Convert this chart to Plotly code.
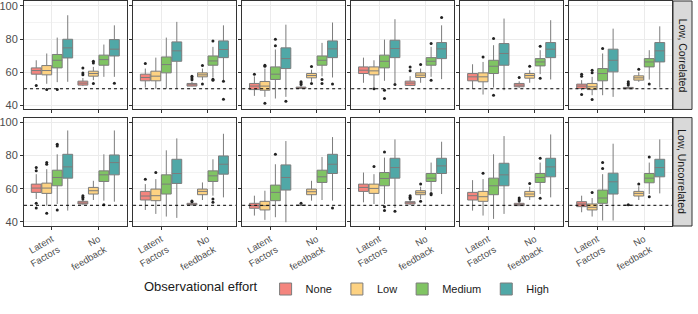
import plotly.graph_objects as go
from plotly.subplots import make_subplots

EFFORT = ["None", "Low", "Medium", "High"]
COLORS = ["#F4857E", "#FDD282", "#80C463", "#50A8A7"]
FEEDBACK = ["Latent<br>Factors", "No<br>feedback"]
ROW_LABELS = ["Low, Correlated", "Low, Uncorrelated"]
Y_TICKS = [40, 60, 80, 100]

# One row per panel (6 panels of the top row, then 6 of the bottom row).
# Columns: LF-None, LF-Low, LF-Medium, LF-High, NF-None, NF-Low, NF-Medium, NF-High
LOWER = [
    [55.2, 53.0, 54.0, 54.2, 51.6, 55.2, 57.2, 57.2],
    [50.7, 50.0, 50.0, 50.0, 51.4, 55.2, 56.8, 55.2],
    [45.7, 45.1, 44.1, 45.1, 50.0, 54.2, 57.5, 56.8],
    [53.6, 51.0, 54.8, 53.2, 51.6, 53.6, 57.2, 55.8],
    [50.0, 46.5, 50.7, 49.1, 50.6, 53.6, 58.8, 55.6],
    [49.1, 46.1, 46.1, 45.1, 50.0, 54.2, 55.5, 50.7],
    [53.8, 49.8, 50.8, 46.8, 50.4, 53.2, 52.8, 52.2],
    [47.2, 44.8, 43.2, 42.4, 50.0, 53.2, 55.8, 54.8],
    [43.8, 41.2, 42.8, 39.8, 50.0, 52.8, 53.2, 52.8],
    [51.8, 50.8, 50.8, 48.4, 50.2, 53.8, 58.2, 56.8],
    [46.8, 43.8, 41.8, 44.8, 49.6, 53.2, 56.8, 54.8],
    [45.8, 43.2, 40.8, 40.8, 50.0, 53.2, 56.8, 57.2],
]
Q1 = [
    [58.8, 58.4, 62.6, 68.6, 52.2, 57.6, 64.2, 69.8],
    [54.8, 54.8, 59.6, 66.6, 51.6, 57.2, 64.2, 68.8],
    [49.5, 49.1, 55.6, 62.2, 50.2, 56.6, 64.2, 68.8],
    [59.2, 58.4, 62.6, 68.8, 52.0, 56.8, 64.2, 68.2],
    [54.8, 54.2, 59.2, 64.2, 51.2, 56.4, 63.8, 68.8],
    [50.1, 49.5, 54.8, 60.2, 50.0, 55.2, 63.2, 66.2],
    [57.8, 57.2, 61.8, 66.4, 50.8, 56.8, 64.4, 68.4],
    [53.2, 52.8, 56.8, 63.2, 50.2, 56.4, 64.4, 68.8],
    [48.2, 47.2, 52.8, 59.2, 50.0, 56.4, 63.8, 69.2],
    [58.4, 57.2, 61.8, 66.4, 50.8, 56.4, 64.4, 69.2],
    [53.2, 52.4, 56.4, 61.8, 49.8, 55.2, 63.8, 67.2],
    [49.2, 47.2, 51.2, 56.8, 50.0, 55.6, 63.6, 67.2],
]
MEDIAN = [
    [61.0, 61.0, 67.2, 74.7, 53.4, 59.2, 67.6, 73.9],
    [56.8, 57.6, 64.6, 72.9, 52.4, 58.4, 66.8, 73.7],
    [51.6, 51.6, 58.8, 68.2, 50.5, 58.0, 67.2, 74.1],
    [61.2, 60.8, 66.6, 74.3, 53.4, 58.2, 66.6, 74.1],
    [57.2, 57.2, 63.6, 71.3, 52.2, 58.0, 66.2, 73.9],
    [51.6, 51.2, 59.2, 67.2, 50.4, 56.6, 66.2, 72.9],
    [60.4, 60.4, 66.8, 73.2, 51.4, 58.8, 68.4, 75.8],
    [55.6, 55.8, 62.8, 69.2, 50.6, 58.4, 67.8, 74.8],
    [49.8, 49.8, 57.8, 66.8, 50.0, 58.2, 67.2, 74.8],
    [60.8, 60.2, 66.2, 72.8, 51.6, 57.6, 66.4, 73.8],
    [55.8, 55.2, 61.8, 68.4, 50.4, 56.8, 66.8, 73.2],
    [50.8, 48.8, 54.4, 64.2, 50.0, 57.2, 66.4, 72.8],
]
Q3 = [
    [62.6, 64.0, 70.7, 79.9, 54.6, 60.6, 70.3, 79.7],
    [58.8, 60.6, 69.2, 78.3, 53.2, 59.6, 69.8, 78.9],
    [53.2, 54.4, 63.2, 74.7, 51.0, 59.2, 69.8, 78.9],
    [63.2, 63.2, 70.3, 79.3, 54.6, 59.6, 68.8, 77.9],
    [59.2, 59.6, 67.2, 77.3, 53.2, 59.2, 68.2, 77.9],
    [52.8, 53.2, 62.2, 73.9, 50.8, 57.8, 68.2, 77.9],
    [62.8, 63.4, 71.2, 80.8, 52.4, 60.8, 70.8, 80.4],
    [58.4, 59.8, 68.4, 77.8, 51.2, 59.8, 70.8, 79.8],
    [51.2, 52.4, 62.2, 74.4, 50.0, 59.8, 71.2, 80.8],
    [62.8, 62.8, 69.8, 78.4, 52.2, 58.8, 69.2, 78.4],
    [57.8, 58.4, 66.4, 75.4, 51.2, 58.4, 69.2, 78.4],
    [52.2, 50.8, 59.2, 69.4, 50.0, 58.4, 69.2, 77.8],
]
UPPER = [
    [67.2, 71.3, 80.9, 94.4, 56.5, 63.2, 76.7, 88.3],
    [62.2, 68.8, 80.9, 90.4, 54.2, 62.2, 75.3, 88.3],
    [57.5, 62.2, 73.7, 88.7, 51.8, 61.5, 77.7, 90.0],
    [68.8, 67.2, 79.7, 92.0, 57.6, 62.2, 75.3, 88.3],
    [64.8, 66.2, 76.3, 92.4, 54.5, 61.2, 73.3, 91.4],
    [55.2, 57.2, 71.3, 86.3, 51.5, 60.0, 73.3, 87.7],
    [68.8, 71.8, 80.8, 95.2, 53.2, 64.8, 80.8, 95.2],
    [62.8, 65.8, 83.2, 90.4, 51.6, 63.8, 77.8, 93.2],
    [55.8, 58.8, 74.8, 88.8, 50.0, 64.8, 79.2, 91.2],
    [69.8, 68.8, 78.8, 89.8, 53.2, 61.2, 75.8, 88.4],
    [65.2, 65.8, 80.8, 91.8, 51.8, 61.2, 75.8, 92.8],
    [55.8, 54.4, 68.8, 87.2, 50.0, 61.5, 75.8, 89.8],
]
OUTLIERS = [
    [[52.0], [49.5], [49.5], [], [62.5, 59.5, 58.5], [66.6, 65.6, 53.2], [], [53.3]],
    [[65.2], [], [], [], [57.6, 56.5, 55.5], [64.0, 52.8], [78.9, 55.8, 55.2], [54.6, 43.7]],
    [[58.8], [64.2, 63.6, 41.3], [79.9, 75.9], [42.5], [54.2, 53.4, 52.6], [63.4, 53.2], [55.6, 53.2], [52.8]],
    [[], [50.0], [49.1, 44.1], [52.6], [63.2, 60.8], [64.6], [77.3, 55.2], [93.0]],
    [[], [69.2], [80.3, 46.1], [], [56.8], [63.6], [75.7, 56.4], []],
    [[58.8, 57.6, 46.5], [61.2, 59.6, 43.5], [74.3], [], [54.2, 53.2, 52.2], [61.8], [52.8], []],
    [[72.8, 70.8, 51.2, 48.4], [75.8, 74.8, 45.2], [86.8, 85.8, 47.2], [], [55.8, 54.8, 53.8], [], [50.4], []],
    [[65.8], [69.8], [], [], [52.6, 52.2], [], [53.8, 51.8], []],
    [[], [], [80.8], [], [51.2], [], [], [48.4]],
    [[], [73.4], [82.2, 49.2, 46.8], [46.4], [55.8, 54.8, 54.0], [62.8, 52.4], [57.2, 56.4], []],
    [[], [69.4], [], [], [54.4, 53.4, 52.6], [63.2], [78.4, 54.2], []],
    [[], [57.8], [75.8, 72.2], [], [50.4], [62.8], [79.2, 55.2], []],
]

FONT = "Liberation Sans, Arial, sans-serif"
N_COLS = 6


def pts(values):
    # plotly needs a non-empty row for every box; a None entry is skipped when drawing
    return list(values) if values else [None]


fig = make_subplots(rows=2, cols=N_COLS, shared_xaxes=True, shared_yaxes=True,
                    horizontal_spacing=0.01, vertical_spacing=0.036)

for p in range(len(MEDIAN)):
    r, c = p // N_COLS + 1, p % N_COLS + 1
    for e, name in enumerate(EFFORT):
        idx = [e, 4 + e]
        fig.add_trace(go.Box(
            x=FEEDBACK,
            lowerfence=[LOWER[p][i] for i in idx],
            q1=[Q1[p][i] for i in idx],
            median=[MEDIAN[p][i] for i in idx],
            q3=[Q3[p][i] for i in idx],
            upperfence=[UPPER[p][i] for i in idx],
            y=[pts(OUTLIERS[p][i]) for i in idx],
            boxpoints="outliers", jitter=0, pointpos=0,
            name=name, legendgroup=name, offsetgroup=name,
            showlegend=(p == 0),
            fillcolor=COLORS[e],
            line=dict(color="#7c7c7c", width=1),
            whiskerwidth=0,
            marker=dict(color="#222222", size=3, line=dict(width=0)),
            hoverinfo="skip",
        ), row=r, col=c)

fig.add_hline(y=50, line=dict(color="black", dash="3px,3px", width=1), row="all", col="all")

fig.update_yaxes(range=[37.5, 103], tickvals=Y_TICKS, showgrid=True, gridcolor="#EBEBEB",
                 gridwidth=1, minor=dict(dtick=10, tick0=40, showgrid=True,
                                         gridcolor="#F3F3F3", gridwidth=0.6, ticks=""),
                 zeroline=False, showline=True, mirror=True, linecolor="#333333", linewidth=1,
                 ticks="outside", ticklen=3, tickcolor="#333333", automargin=False,
                 ticklabeloverflow="allow",
                 tickfont=dict(family=FONT, size=11, color="#4D4D4D"))
fig.update_xaxes(range=[-0.6, 1.6], showgrid=True, gridcolor="#EBEBEB", gridwidth=1,
                 zeroline=False, showline=True, mirror=True, linecolor="#333333", linewidth=1,
                 ticks="outside", ticklen=3, tickcolor="#333333", tickangle=-30,
                 automargin=False, ticklabeloverflow="allow",
                 tickfont=dict(family=FONT, size=9.5, color="#4D4D4D"))

fig.update_layout(
    width=698, height=314,
    margin=dict(l=24, r=26, t=1, b=88, autoexpand=False),
    plot_bgcolor="white", paper_bgcolor="white",
    boxmode="group", boxgap=0.1, boxgroupgap=0.06,
    font=dict(family=FONT, color="#1A1A1A"),
    legend=dict(orientation="h", x=0.5, xanchor="center", y=-0.28, yanchor="middle",
                title=dict(text="Observational effort", side="left",
                           font=dict(family=FONT, size=13, color="#1A1A1A")),
                font=dict(family=FONT, size=11, color="#1A1A1A"),
                itemwidth=30, tracegroupgap=0),
)

# facet strips on the right
plot_w = 698 - 24 - 26
for ri, label in enumerate(ROW_LABELS):
    yax = fig.layout["yaxis" if ri == 0 else "yaxis%d" % (ri * N_COLS + 1)]
    y0, y1 = yax.domain
    fig.add_shape(type="rect", xref="paper", yref="paper",
                  x0=1 + 1 / plot_w, x1=1 + 20 / plot_w, y0=y0, y1=y1,
                  fillcolor="#D9D9D9", line=dict(color="#333333", width=1), layer="below")
    fig.add_annotation(text=label, xref="paper", yref="paper",
                       x=1 + 10.5 / plot_w, y=(y0 + y1) / 2, textangle=90, showarrow=False,
                       font=dict(family=FONT, size=10.5, color="#1A1A1A"),
                       xanchor="center", yanchor="middle")

fig.write_html("out.html", config={"displayModeBar": False},
               post_script="document.body.style.margin='0';")
